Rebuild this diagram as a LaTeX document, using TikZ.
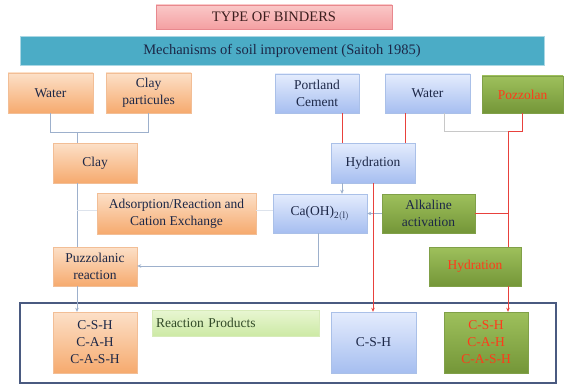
\documentclass[tikz,border=0pt]{standalone}
\usepackage{fontspec}
\setmainfont{Liberation Serif}
\usetikzlibrary{arrows.meta,calc}
\definecolor{txt}{HTML}{1C2747}
\definecolor{redtxt}{HTML}{FF3A1A}
\definecolor{redln}{HTML}{E8413C}
\definecolor{blueln}{HTML}{9DB0CC}
\definecolor{grayln}{HTML}{C8C8C8}
\definecolor{faintln}{HTML}{DDE3EC}
\definecolor{otop}{RGB}{252,224,200}
\definecolor{obot}{RGB}{246,170,110}
\definecolor{odraw}{RGB}{242,190,150}
\definecolor{btop}{RGB}{228,236,253}
\definecolor{bbot}{RGB}{166,190,240}
\definecolor{bdraw}{RGB}{170,192,232}
\definecolor{gtop}{RGB}{158,192,92}
\definecolor{gbot}{RGB}{116,150,56}
\definecolor{gdraw}{RGB}{128,160,72}
\tikzset{
  base/.style={rectangle, inner sep=2pt, align=center, text=txt,
    font=\fontsize{13.5}{17}\selectfont},
  obox/.style={base, draw=odraw, top color=otop, bottom color=obot},
  bbox/.style={base, draw=bdraw, top color=btop, bottom color=bbot},
  gbox/.style={base, draw=gdraw, top color=gtop, bottom color=gbot},
  ln/.style={draw=blueln, line width=0.6pt},
  gln/.style={draw=grayln, line width=0.8pt},
  rln/.style={draw=redln, line width=1pt},
  arr/.style={-{Stealth[length=4pt,width=3.5pt]}},
}
\begin{document}
\begin{tikzpicture}[x=1pt,y=-1pt]
\useasboundingbox[fill=white] (0,0) rectangle (564,385);
% headers
\node[base, minimum width=236pt, minimum height=24pt, draw={rgb,255:red,232;green,136;blue,142},
  top color={rgb,255:red,250;green,200;blue,200}, bottom color={rgb,255:red,244;green,160;blue,162},
  text={rgb,255:red,60;green,30;blue,30}, font=\fontsize{14.5}{17}\selectfont] (title) at (274,17) {TYPE OF BINDERS};
\node[base, minimum width=524pt, minimum height=29pt, draw={rgb,255:red,170;green,215;blue,228},
  fill={rgb,255:red,75;green,172;blue,198}, font=\fontsize{14.5}{17}\selectfont] (banner) at (282,50.5) {Mechanisms of soil improvement (Saitoh 1985)};
% outer frame
\node[draw={rgb,255:red,74;green,90;blue,128}, line width=1.4pt, minimum width=536pt, minimum height=80pt, inner sep=0pt] (frame) at (288,343) {};
% top row
\node[obox, minimum width=85pt, minimum height=40pt] (water1) at (50.5,93) {Water};
\node[obox, minimum width=85pt, minimum height=40pt] (claypart) at (148.5,93) {Clay\\particules};
\node[bbox, minimum width=84pt, minimum height=39pt] (portland) at (317,93.5) {Portland\\Cement};
\node[bbox, minimum width=85pt, minimum height=39pt] (water2) at (427.5,93.5) {Water};
\node[gbox, minimum width=81pt, minimum height=37pt, text=redtxt] (pozzolan) at (522.5,94.5) {Pozzolan};
% middle
\node[obox, minimum width=84pt, minimum height=40pt] (clay) at (95,163) {Clay};
\node[bbox, minimum width=84pt, minimum height=40pt] (hydr1) at (373,163) {Hydration};
\node[obox, minimum width=159pt, minimum height=41pt] (adsorp) at (176.5,213.5) {Adsorption/Reaction and\\Cation Exchange};
\node[bbox, minimum width=94pt, minimum height=39pt] (caoh) at (320,213.5) {Ca(OH)$_{\mathrm{2(l)}}$};
\node[gbox, minimum width=93pt, minimum height=39pt] (alk) at (428.5,213.5) {Alkaline\\activation};
\node[obox, minimum width=84pt, minimum height=39pt] (puzz) at (95,266.5) {Puzzolanic\\reaction};
\node[gbox, minimum width=92pt, minimum height=39pt, text=redtxt] (hydr2) at (475,266.5) {Hydration};
% bottom
\node[obox, minimum width=84pt, minimum height=61pt] (csh1) at (95,342.5) {C-S-H\\C-A-H\\C-A-S-H};
\node[base, minimum width=167pt, minimum height=26pt, text width=159pt, align=left, draw={rgb,255:red,215;green,235;blue,185},
  top color={rgb,255:red,232;green,246;blue,210}, bottom color={rgb,255:red,205;green,233;blue,165},
  text={rgb,255:red,50;green,75;blue,40}] (react) at (235.5,323) {Reaction Products};
\node[bbox, minimum width=85pt, minimum height=61pt] (csh2) at (373.5,342.5) {C-S-H};
\node[gbox, minimum width=84pt, minimum height=61pt, text=redtxt] (csh3) at (486,342.5) {C-S-H\\C-A-H\\C-A-S-H};
% helper coordinates
\coordinate (yA) at (0,132);
\coordinate (yB) at (0,131);
\coordinate (xL) at (77,0);
\coordinate (xP) at (342,0);
\coordinate (xW) at (405,0);
\coordinate (xG) at (444,0);
\coordinate (xR) at (508,0);
\coordinate (xC) at (318,0);
\coordinate (yC) at (0,266);
\coordinate (yF) at (0,210);
% left connectors
\draw[ln] (water1.south) -- (water1.south |- yA) -- (claypart.south |- yA);
\draw[ln] (claypart.south) -- (claypart.south |- yA);
\draw[ln] (xL |- yA) -- (clay.north -| xL);
\draw[ln] (clay.south -| xL) -- (puzz.north -| xL);
\draw[ln, arr] (puzz.south -| xL) -- (csh1.north -| xL);
\draw[draw=faintln, line width=0.6pt] (xL |- yF) -- (adsorp.west |- yF);
\draw[draw=faintln, line width=0.6pt] (adsorp.east |- yF) -- (caoh.west |- yF);
\draw[ln, arr] (caoh.south -| xC) -- (xC |- yC) -- (puzz.east |- yC);
\draw[ln, arr] (alk.west) -- (caoh.east);
\draw[ln, arr] (hydr1.south -| xP) -- (caoh.north -| xP);
% right connectors
\draw[rln] (portland.south -| xP) -- (hydr1.north -| xP);
\draw[rln] (water2.south -| xW) -- (hydr1.north -| xW);
\draw[gln] (water2.south -| xG) -- (xG |- yB) -- (xR |- yB);
\draw[rln] (pozzolan.south) -- (pozzolan.south |- yB) -- (xR |- yB) -- (hydr2.north -| xR);
\draw[rln] (alk.east) -- (alk.east -| xR);
\draw[rln, arr] (hydr1.south) -- (csh2.north -| hydr1.south);
\draw[rln, arr] (hydr2.south -| xR) -- (csh3.north -| xR);
\end{tikzpicture}
\end{document}
